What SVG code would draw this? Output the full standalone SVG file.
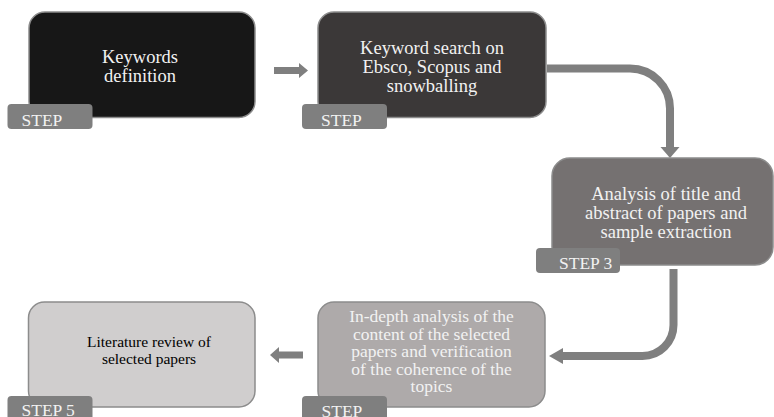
<svg xmlns="http://www.w3.org/2000/svg" width="774" height="417" viewBox="0 0 774 417">
<style>
.box{stroke:#8c8c8c;stroke-width:1.5}
.tag{fill:#7f7f7f}
.t{font-family:"Liberation Serif","Times New Roman",serif;text-anchor:middle;fill:#f2f2f2}
.d{fill:#000000}
.s{font-family:"Liberation Serif","Times New Roman",serif;font-size:17.5px;fill:#f2f2f2}
.con{fill:none;stroke:#7f7f7f;stroke-width:8}
.head{fill:#7f7f7f}
</style>
<rect width="774" height="417" fill="#ffffff"/>
<g id="connectors">
<polygon class="head" points="274,67 299,67 299,63 308,70.5 299,78 299,74 274,74"/>
<path class="con" d="M547 68.5 H630 A40 40 0 0 1 670 108.5 V148"/>
<polygon class="head" points="660.5,147 679.5,147 670,158"/>
<path class="con" d="M673.5 269 V325 A31 31 0 0 1 642.5 356 H562"/>
<polygon class="head" points="563,348 563,364 549,356"/>
<polygon class="head" points="303,351.5 279,351.5 279,347 270,355 279,363 279,358.5 303,358.5"/>
</g>
<g id="step1">
<rect class="box" x="29" y="12" width="226" height="105.5" rx="16" fill="#171717"/>
<text class="t" x="140" y="63" font-size="18.5">Keywords</text>
<text class="t" x="140" y="82" font-size="18.5">definition</text>
<rect class="tag" x="7.5" y="104" width="85" height="25" rx="4"/>
<text class="s" x="21.5" y="125.5">STEP</text>
</g>
<g id="step2">
<rect class="box" x="318" y="12" width="228" height="105.5" rx="16" fill="#3b3838"/>
<text class="t" x="432" y="53.5" font-size="18.5">Keyword search on</text>
<text class="t" x="432" y="72.5" font-size="18.5">Ebsco, Scopus and</text>
<text class="t" x="432" y="91.5" font-size="18.5">snowballing</text>
<rect class="tag" x="302" y="104" width="85" height="25" rx="4"/>
<text class="s" x="321" y="125.5">STEP</text>
</g>
<g id="step3">
<rect class="box" x="552" y="158" width="221" height="107" rx="18" fill="#757171"/>
<text class="t" x="666" y="200" font-size="18.5">Analysis of title and</text>
<text class="t" x="666" y="219" font-size="18.5">abstract of papers and</text>
<text class="t" x="666" y="238" font-size="18.5">sample extraction</text>
<rect class="tag" x="536" y="248" width="84" height="25" rx="4"/>
<text class="s" x="559" y="269">STEP 3</text>
</g>
<g id="step4">
<rect class="box" x="318" y="302" width="227" height="105" rx="16" fill="#aeaaaa"/>
<text class="t" x="431.5" y="322" font-size="17.5">In-depth analysis of the</text>
<text class="t" x="431.5" y="339.5" font-size="17.5">content of the selected</text>
<text class="t" x="431.5" y="357" font-size="17.5">papers and verification</text>
<text class="t" x="431.5" y="374.5" font-size="17.5">of the coherence of the</text>
<text class="t" x="431.5" y="392" font-size="17.5">topics</text>
<rect class="tag" x="302" y="396" width="85" height="25" rx="4"/>
<text class="s" x="321.5" y="417">STEP</text>
</g>
<g id="step5">
<rect class="box" x="28.5" y="302" width="226.5" height="105" rx="16" fill="#d0cece" stroke="#7f7f7f"/>
<text class="t d" x="149" y="347" font-size="15.5">Literature review of</text>
<text class="t d" x="149" y="364" font-size="15.5">selected papers</text>
<rect class="tag" x="7.5" y="396" width="85" height="25" rx="4"/>
<text class="s" x="21.5" y="415.5">STEP 5</text>
</g>
</svg>
